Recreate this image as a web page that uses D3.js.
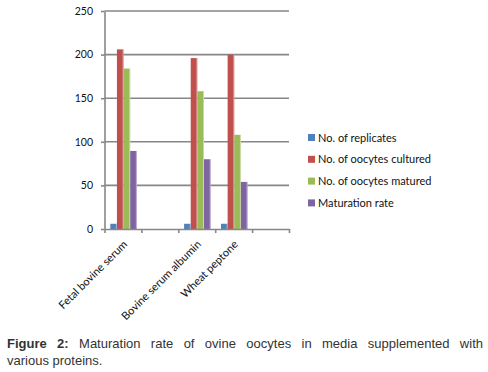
<!DOCTYPE html>
<html>
<head>
<meta charset="utf-8">
<script src="https://cdn.jsdelivr.net/npm/d3@7"></script>
<style>
  body { margin: 0; background: #fff; }
  #wrap { position: relative; width: 488px; height: 372px; overflow: hidden; }
  #caption {
    position: absolute; left: 7px; top: 335px; width: 476px;
    font-family: "Liberation Sans", Arial, sans-serif; font-size: 13px;
    line-height: 17px; color: #333;
  }
  #caption .l1 { text-align: justify; text-align-last: justify; white-space: nowrap; }
</style>
</head>
<body>
<div id="wrap">
  <div id="chart"></div>
  <div id="caption">
    <div class="l1"><b>Figure 2:</b> Maturation rate of ovine oocytes in media supplemented with</div>
    <div>various proteins.</div>
  </div>
</div>
<script>
// data (two empty category slots as in the original)
const categories = ["Fetal bovine serum", "", "Bovine serum albumin", "Wheat peptone", ""];
const seriesNames = ["No. of replicates", "No. of oocytes cultured", "No. of oocytes matured", "Maturation rate"];
const replicates = [6, null, 6, 6, null];
const cultured = [206, null, 196, 200, null];
const matured = [184, null, 158, 108, null];
const maturationRate = [89.5, null, 80, 54, null];
const yTicks = [0, 50, 100, 150, 200, 250];
const colors = ["#4F81BD", "#C0504D", "#9BBB59", "#8064A2"];

const allSeries = [replicates, cultured, matured, maturationRate];

const plot = {left: 104.5, right: 289, top: 11, bottom: 229};

let svg = d3.select("#chart").append("svg")
  .attr("width", 488)
  .attr("height", 372);

//scales
let x = d3.scaleBand()
  .domain(d3.range(categories.length))
  .range([plot.left, plot.right])
  .padding(0);

let xSub = d3.scaleBand()
  .domain(d3.range(seriesNames.length))
  .range([0, x.bandwidth()])
  .paddingInner(0)
  .paddingOuter(0.78)
  .align(0.56);

let xEdges = d3.scaleLinear()
  .domain([0, categories.length])
  .range([plot.left, plot.right]);

let y = d3.scaleLinear()
  .domain([0, 250])
  .range([plot.bottom, plot.top]);

//gridlines
svg.append("g")
  .selectAll("line")
  .data(yTicks.filter(d => d > 0))
  .join("line")
  .attr("x1", plot.left)
  .attr("x2", plot.right)
  .attr("y1", d => y(d))
  .attr("y2", d => y(d))
  .attr("stroke", "#878787")
  .attr("stroke-width", 1.6);

//y axis
let yAxis = svg.append("g")
  .attr("transform", `translate(${plot.left},0)`)
  .call(d3.axisLeft(y).tickValues(yTicks).tickSizeInner(3.5).tickSizeOuter(0).tickPadding(8));
yAxis.select(".domain").attr("stroke", "#878787").attr("stroke-width", 1.6);
yAxis.selectAll(".tick line").attr("stroke", "#878787").attr("stroke-width", 1.6);
yAxis.selectAll("text")
  .attr("font-family", "Lato, sans-serif")
  .attr("font-size", 10.5)
  .attr("fill", "#111");

//bars
let groups = svg.append("g")
  .selectAll("g")
  .data(allSeries)
  .join("g")
  .attr("fill", (d, i) => colors[i]);

groups.each(function(vals, si) {
  let bars = vals.map((v, ci) => ({ci, v})).filter(d => d.v != null);
  d3.select(this).selectAll("rect.bar")
    .data(bars)
    .join("rect")
    .attr("class", "bar")
    .attr("x", d => x(d.ci) + xSub(si))
    .attr("y", d => y(d.v))
    .attr("width", xSub.bandwidth())
    .attr("height", d => y(0) - y(d.v));
  // light edge on the right, like the Excel bevel
  d3.select(this).selectAll("rect.edge")
    .data(bars)
    .join("rect")
    .attr("class", "edge")
    .attr("x", d => x(d.ci) + xSub(si) + xSub.bandwidth() - 1)
    .attr("y", d => y(d.v))
    .attr("width", 1)
    .attr("height", d => y(0) - y(d.v))
    .attr("fill", "#fff")
    .attr("opacity", 0.45);
});

//x axis (ticks at slot boundaries)
let xAxis = svg.append("g")
  .attr("transform", `translate(0,${plot.bottom})`)
  .call(d3.axisBottom(xEdges).ticks(categories.length).tickFormat("").tickSizeInner(4).tickSizeOuter(0));
xAxis.select(".domain").attr("stroke", "#878787").attr("stroke-width", 1.6);
xAxis.selectAll(".tick line").attr("stroke", "#878787").attr("stroke-width", 1.6);

//rotated category labels
svg.append("g")
  .selectAll("text")
  .data(categories.map((c, i) => ({c, i})).filter(d => d.c))
  .join("text")
  .attr("transform", d => `translate(${x(d.i) + x.bandwidth() / 2 + 5},${plot.bottom + 16}) rotate(-45)`)
  .attr("text-anchor", "end")
  .attr("font-family", "Lato, sans-serif")
  .attr("font-size", 11)
  .attr("fill", "#111")
  .text(d => d.c);

//legend
let legend = svg.append("g")
  .attr("transform", "translate(308,134)");

let items = legend.selectAll("g")
  .data(seriesNames)
  .join("g")
  .attr("transform", (d, i) => `translate(0,${i * 21.8})`);

items.append("rect")
  .attr("width", 7)
  .attr("height", 7)
  .attr("fill", (d, i) => colors[i]);

items.append("text")
  .attr("x", 10)
  .attr("y", 7.5)
  .attr("font-family", "Lato, sans-serif")
  .attr("font-size", 11)
  .attr("fill", "#111")
  .text(d => d);
</script>
</body>
</html>
